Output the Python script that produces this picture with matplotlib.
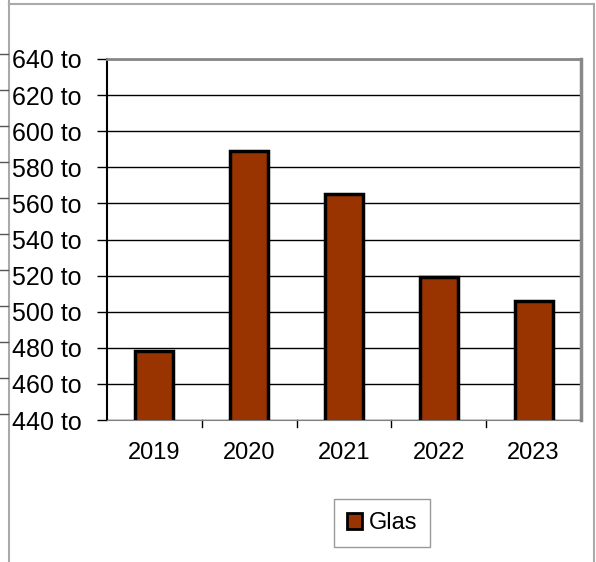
import matplotlib.pyplot as plt
from matplotlib.lines import Line2D
from matplotlib.patches import Patch

plt.rcParams['font.family'] = ['Liberation Sans', 'DejaVu Sans']

jahre = ['2019', '2020', '2021', '2022', '2023']
glas = [478, 589, 565, 519, 506]
y_ticks = list(range(440, 641, 20))
y_labels = [f'{v} to' for v in y_ticks]

fig = plt.figure(figsize=(5.96, 5.62), dpi=100)
W, H = 596, 562
ax = fig.add_axes([107 / W, 1 - 420 / H, (581 - 107) / W, (420 - 59) / H])

x = list(range(len(jahre)))
ax.bar(x, glas, width=0.4, color='#993300', edgecolor='black', linewidth=2.5,
       zorder=3, label='Glas')

ax.set_xlim(-0.5, len(jahre) - 0.5)
ax.set_ylim(440, 640)
ax.set_yticks(y_ticks)
ax.set_yticklabels(y_labels, fontsize=18)
ax.set_xticks(x)
ax.set_xticklabels(jahre, fontsize=17)
ax.tick_params(axis='x', length=0, pad=16)
ax.tick_params(axis='y', length=7, width=1, color='black', pad=11.5)

# Kategoriegrenzen als Striche unter der Achse
for b in [i + 0.5 for i in x[:-1]]:
    ax.plot([b, b], [440, 436], color='black', lw=1, clip_on=False)

ax.grid(axis='y', color='black', lw=1, zorder=0)
ax.spines['left'].set_color('black')
ax.spines['left'].set_linewidth(1.5)
ax.spines['bottom'].set_color('#808080')
ax.spines['top'].set_color('#888888')
ax.spines['top'].set_linewidth(2)
ax.spines['right'].set_color('#888888')
ax.spines['right'].set_linewidth(2.5)

leg = ax.legend(handles=[Patch(facecolor='#993300', edgecolor='black', lw=2, label='Glas')],
                loc='center', bbox_to_anchor=((382 - 107) / (581 - 107), -(523 - 420) / (420 - 59)),
                fontsize=17, frameon=True, fancybox=False, edgecolor='#808080',
                handlelength=0.65, handleheight=0.65, handletextpad=0.25,
                borderpad=0.55, borderaxespad=0)
leg.get_frame().set_linewidth(1)

# Rahmen der Tabelle
fig.add_artist(Line2D([9 / W, 9 / W], [0, 1 - 4 / H], color='#aaaaaa', lw=1.5))
fig.add_artist(Line2D([9 / W, 594 / W], [1 - 4 / H, 1 - 4 / H], color='#aaaaaa', lw=1.5))
fig.add_artist(Line2D([594 / W, 594 / W], [0, 1 - 4 / H], color='#aaaaaa', lw=1.5))
fig.add_artist(Line2D([9 / W, 9 / W], [1 - 4 / H, 1], color='#aaaaaa', lw=1.5))
for yy in [54, 90, 126, 162, 198, 234, 270, 306, 342, 378, 414]:
    fig.add_artist(Line2D([0, 8 / W], [1 - yy / H, 1 - yy / H], color='#555555', lw=1))

fig.savefig('out.png', dpi=100)
